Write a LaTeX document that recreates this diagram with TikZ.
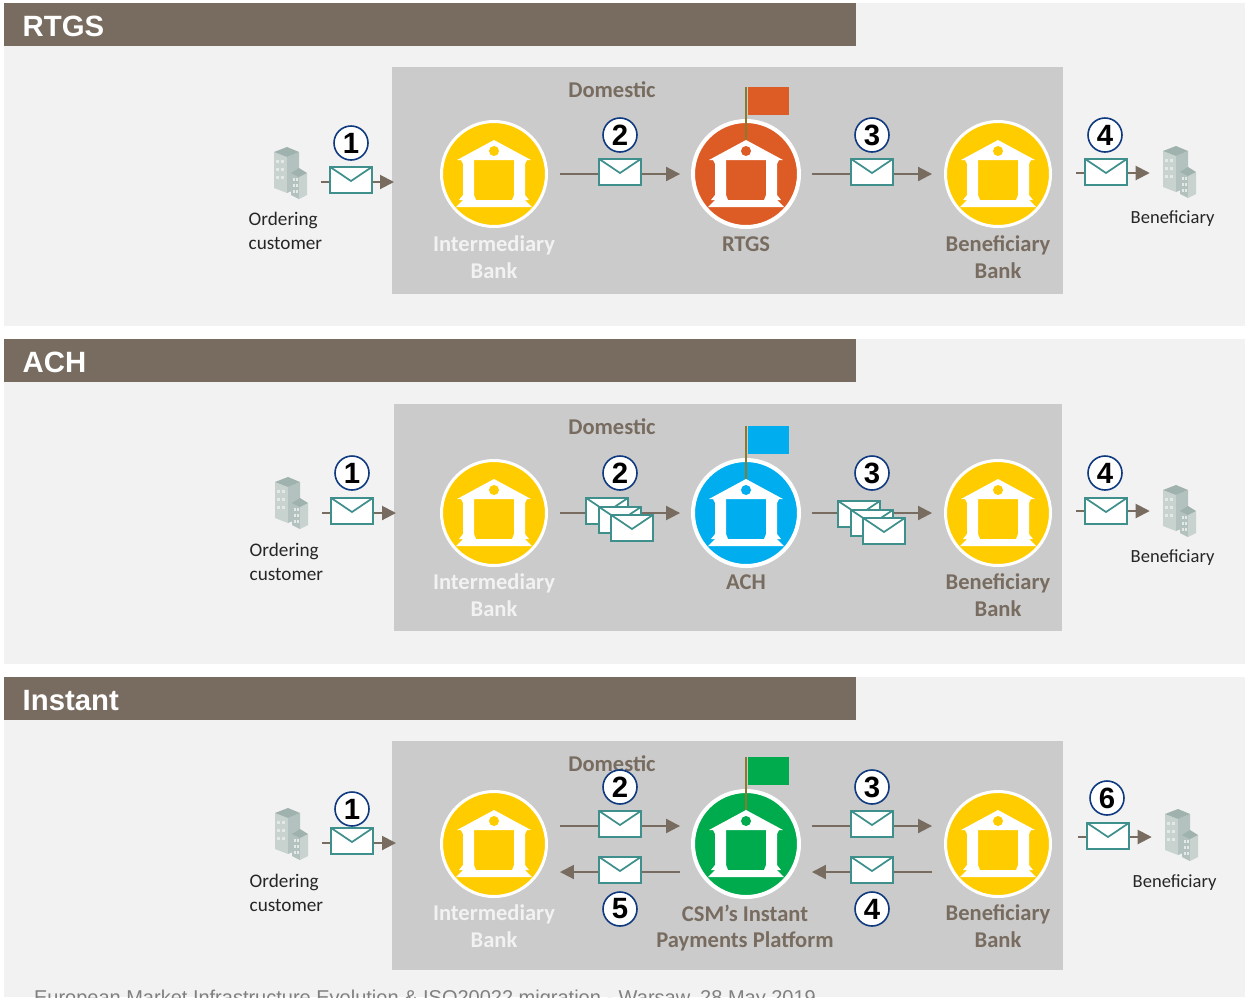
\documentclass[tikz,border=0pt]{standalone}
\usepackage{fontspec}
\setmainfont{Carlito}
\newfontfamily\headfont{Liberation Sans}
\usetikzlibrary{arrows.meta}
\definecolor{panelgrey}{HTML}{F2F2F2}
\definecolor{zonegrey}{HTML}{CBCBCB}
\definecolor{headbrown}{HTML}{786C60}
\definecolor{mailteal}{HTML}{3F8F8C}
\definecolor{ringnavy}{HTML}{0F3A80}
\definecolor{bankyellow}{HTML}{FFCC00}
\definecolor{rtgsorange}{HTML}{DD5C26}
\definecolor{achblue}{HTML}{00AEEF}
\definecolor{instgreen}{HTML}{00AB4E}
\definecolor{poleolive}{HTML}{8A7A2E}
\definecolor{blockpale}{HTML}{C8D3D0}
\definecolor{blockmid}{HTML}{B3C2BE}
\definecolor{blockdark}{HTML}{9FB2AD}
\definecolor{blockpane}{HTML}{E3E9E7}
\tikzset{
  bankdecorate/.style={shape=circle,draw=white,line width=2.25pt,minimum size=78.75pt,inner sep=0pt,outer sep=10.1pt},
  hubdecorate/.style={bankdecorate,line width=3pt,minimum size=79.5pt,outer sep=9.7pt},
  mailbox/.style={shape=rectangle,draw=mailteal,line width=1.5pt,fill=white,minimum width=31.2pt,minimum height=19.5pt,inner sep=0pt,
    path picture={\draw[mailteal,line width=1.3pt] (path picture bounding box.north west)
      -- ([yshift=-10.5pt]path picture bounding box.north) -- (path picture bounding box.north east);}},
  stepnum/.style={shape=circle,draw=ringnavy,line width=1.2pt,fill=white,minimum size=25.5pt,inner sep=0pt,
    font=\headfont\bfseries\fontsize{22}{22}\selectfont},
  flowline/.style={-{Triangle[length=10.5pt,width=10.5pt]},line width=1.5pt,color=headbrown},
  paneltitle/.style={anchor=west,text=white,font=\headfont\bfseries\fontsize{22}{22}\selectfont},
  zonetitle/.style={text=headbrown,font=\bfseries\fontsize{16.9}{20}\selectfont},
  banklight/.style={align=center,text=panelgrey,font=\bfseries\fontsize{16.9}{20}\selectfont},
  bankdark/.style={align=center,text=headbrown,font=\bfseries\fontsize{16.9}{20}\selectfont},
  partytext/.style={align=left,anchor=west,text=black!85,font=\fontsize{14.4}{18}\selectfont},
  pics/bankglyph/.style={code={
    \fill[white] (0,-34) -- (37,-14) -- (-37,-14) -- cycle;
    \fill[#1] (0,-23) circle (3.75pt);
    \foreach \sgn in {-1,1}
    {
      \fill[white] (\sgn*20,-14) -- (\sgn*33,-14) -- (\sgn*31,-10) -- (\sgn*31,21)
        -- (\sgn*35,26) -- (\sgn*18,26) -- (\sgn*20,21) -- cycle;
    }
    \fill[white] (-31,26) -- (31,26) -- (38,33) -- (-38,33) -- cycle;
  }},
  pics/bankflag/.style={code={
    \draw[poleolive,line width=1.5pt] (0,-87) -- (0,-34);
    \fill[#1] (1.5,-87) rectangle (43,-59);
  }},
  pics/officeblock/.style={code={
    \fill[blockpale] (-17,-21) -- (-4,-16) -- (-4,20) -- (-17,15) -- cycle;
    \fill[blockmid] (-4,-16) -- (8,-21) -- (8,15) -- (-4,20) -- cycle;
    \fill[blockdark] (-17,-21) -- (-4,-26) -- (8,-21) -- (-4,-16) -- cycle;
    \foreach \wx in {-15,-10} \foreach \wy in {-13,-5,3}
    {
      \fill[blockpane] (\wx,\wy) rectangle ++(3,3);
    }
    \fill[blockmid] (0,0) -- (8,4) -- (8,26) -- (0,22) -- cycle;
    \fill[blockpale] (8,4) -- (16,0) -- (16,22) -- (8,26) -- cycle;
    \fill[blockdark] (0,0) -- (8,-5) -- (16,0) -- (8,4) -- cycle;
    \foreach \wx in {1.5,5} \foreach \wy in {5,11,17}
    {
      \fill[blockpane] (\wx,\wy) rectangle ++(2,3);
    }
  }}
}
\begin{document}
\begin{tikzpicture}[x=0.75pt,y=-0.75pt]
\path[use as bounding box,clip] (0,0) rectangle (1245,997);
%% panels and headers
\foreach \panelname/\ptop/\pbot/\ztop/\zbot/\zleft/\zright/\txt/\tshift in {
  RTGS/3/326/67/294/392/1063/RTGS/23, ACH/339/664/404/631/394/1062/ACH/23,
  Instant/677/997/741/970/392/1063/Instant/24}
{
  \fill[panelgrey] (4,\ptop) rectangle (1245,\pbot);
  \fill[headbrown] (4,\ptop) rectangle (856,\ptop+43);
  \fill[zonegrey] (\zleft,\ztop) rectangle (\zright,\zbot);
  \node (title\panelname) at (18,\ptop+\tshift) [paneltitle] {\txt};
  \node (zone\panelname) at (612,\ztop+23) [zonetitle] {Domestic};
}
\node (footline) at (425,999) [text=gray,font=\headfont\fontsize{15}{15}\selectfont] {European Market Infrastructure Evolution \& ISO20022 migration - Warsaw, 28 May 2019};
%% banks
\foreach \bankname/\x/\y/\colr/\bankstyle in {
  interR/494/174/bankyellow/bankdecorate, hubR/746/174/rtgsorange/hubdecorate, beneR/998/174/bankyellow/bankdecorate,
  interA/494/513/bankyellow/bankdecorate, hubA/746/513/achblue/hubdecorate, beneA/998/513/bankyellow/bankdecorate,
  interI/494/844/bankyellow/bankdecorate, hubI/746/844/instgreen/hubdecorate, beneI/998/844/bankyellow/bankdecorate}
{
  \node (\bankname) at (\x,\y) [\bankstyle,fill=\colr] {};
  \pic at (\bankname) {bankglyph=\colr};
}
\foreach \bankname/\colr in {hubR/rtgsorange, hubA/achblue, hubI/instgreen}
{
  \pic at (\bankname) {bankflag=\colr};
}
%% bank labels
\foreach \labname/\x/\y/\labstyle/\txt in {
  labInterR/494/257/banklight/{Intermediary\\Bank}, labHubR/746/244/bankdark/RTGS,
  labBeneR/998/257/bankdark/{Beneficiary\\Bank},
  labInterA/494/595/banklight/{Intermediary\\Bank}, labHubA/746/582/bankdark/ACH,
  labBeneA/998/595/bankdark/{Beneficiary\\Bank},
  labInterI/494/926/banklight/{Intermediary\\Bank}, labHubI/745/928/bankdark/{CSM’s Instant\\Payments Platform},
  labBeneI/998/926/bankdark/{Beneficiary\\Bank}}
{
  \node (\labname) at (\x,\y) [\labstyle] {\txt};
}
%% parties
\foreach \partyname/\x/\liney/\icony/\labx/\laby/\txt in {
  ordR/291/182/173/244/231/{Ordering\\customer},
  ordA/292/513/503/245/562/{Ordering\\customer},
  ordI/292/843/834/245/893/{Ordering\\customer},
  benR/1180/173/172/1126/219/{\fontsize{13.9}{18}\selectfont Beneficiary},
  benA/1180/511/511/1126/558/{\fontsize{13.9}{18}\selectfont Beneficiary},
  benI/1182/837/835/1128/883/{\fontsize{13.9}{18}\selectfont Beneficiary}}
{
  \node (\partyname) at (\x,\liney) [minimum width=45pt,minimum height=2pt,inner sep=0pt] {};
  \pic at (\x,\icony) {officeblock};
  \node (lab\partyname) at (\labx,\laby) [partytext] {\txt};
}
\coordinate (inR) at (394,182);
\coordinate (inA) at (396,513);
\coordinate (inI) at (396,843);
\coordinate (outR) at (1076,173);
\coordinate (outA) at (1076,511);
\coordinate (outI) at (1078,837);
%% flows
\path
\foreach \startnode/\endnode in {ordR.east/inR, interR/hubR, hubR/beneR, outR/benR.west,
  ordA.east/inA, interA/hubA, hubA/beneA, outA/benA.west,
  ordI.east/inI, outI/benI.west}
{
  (\startnode) edge[flowline] (\endnode)
};
\draw[flowline] ([yshift=13.5pt]interI.east) -- ([yshift=13.5pt]hubI.west);
\draw[flowline] ([yshift=13.5pt]hubI.east) -- ([yshift=13.5pt]beneI.west);
\draw[flowline] ([yshift=-21pt]hubI.west) -- ([yshift=-21pt]interI.east);
\draw[flowline] ([yshift=-21pt]beneI.west) -- ([yshift=-21pt]hubI.east);
%% messages
\foreach \mailname/\x/\y in {
  mailR1/351/180, mailR2/620/172, mailR3/872/172, mailR4/1106/172,
  mailA1/352/511, mailA2a/607/511, mailA2b/620/520, mailA2c/632/528,
  mailA3a/859/514, mailA3b/872/523, mailA3c/884/531, mailA4/1106/511,
  mailI1/352/841, mailI2/620/824, mailI3/872/824, mailI6/1108/836,
  mailI5/620/870, mailI4/872/870}
{
  \node (\mailname) at (\x,\y) [mailbox] {};
}
%% step numbers
\foreach \stepname/\x/\y/\txt in {
  stepR1/351/143/1, stepR2/620/135/2, stepR3/872/135/3, stepR4/1105/135/4,
  stepA1/352/473/1, stepA2/620/473/2, stepA3/872/473/3, stepA4/1105/473/4,
  stepI1/352/809/1, stepI2/620/787/2, stepI3/872/787/3, stepI6/1107/798/6,
  stepI5/620/909/5, stepI4/872/909/4}
{
  \node (\stepname) at (\x,\y) [stepnum] {\txt};
}
\end{tikzpicture}
\end{document}
